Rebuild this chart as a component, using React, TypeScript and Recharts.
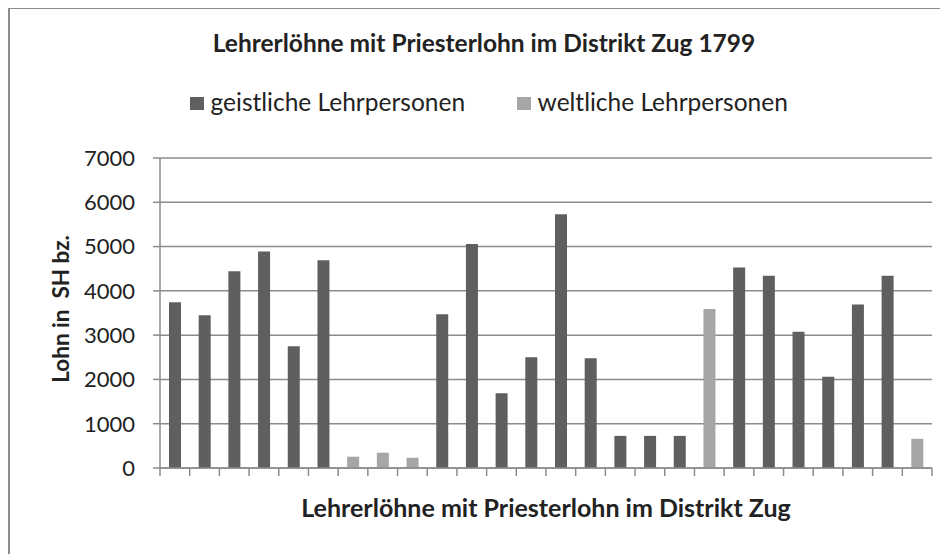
import React from "react";
import { BarChart, Bar, XAxis, YAxis, CartesianGrid, Legend, Label } from "recharts";

const categories = ["1","2","3","4","5","6","7","8","9","10","11","12","13","14","15","16","17","18","19","20","21","22","23","24","25","26"];
const geistliche: (number | null)[] = [3740, 3450, 4440, 4890, 2750, 4690, null, null, null, 3470, 5060, 1690, 2500, 5730, 2480, 725, 725, 725, null, 4530, 4340, 3075, 2060, 3690, 4340, null];
const weltliche: (number | null)[] = [null, null, null, null, null, null, 255, 345, 232, null, null, null, null, null, null, null, null, null, 3590, null, null, null, null, null, null, 660];
const yTicks = [0, 1000, 2000, 3000, 4000, 5000, 6000, 7000];

const title = "Lehrerlöhne mit Priesterlohn im Distrikt Zug 1799";
const xTitle = "Lehrerlöhne mit Priesterlohn im Distrikt Zug";
const yTitle = "Lohn in  SH bz.";
const seriesNames = ["geistliche Lehrpersonen", "weltliche Lehrpersonen"];

const data = categories.map((c, i) => ({ name: c, g: geistliche[i], w: weltliche[i] }));

const DARK = "#5f5f5f";
const LIGHT = "#a6a6a6";
const GRID = "#8c8c8c";
const FONT = "Lato, 'Open Sans', sans-serif";
const W = 940;
const H = 546;
const PLOT_W = 772;

const XTick = (props: any) => {
  const { x, y, index } = props;
  const half = PLOT_W / categories.length / 2;
  return (
    <g>
      <line x1={x - half} x2={x - half} y1={y} y2={y + 8} stroke={GRID} strokeWidth={1.5} />
      {index === categories.length - 1 ? (
        <line x1={x + half} x2={x + half} y1={y} y2={y + 8} stroke={GRID} strokeWidth={1.5} />
      ) : null}
    </g>
  );
};

const LegendContent = () => (
  <div style={{ display: "flex", justifyContent: "center", alignItems: "center", fontFamily: FONT, fontSize: 24.5, lineHeight: "29px", color: "#222" }}>
    {seriesNames.map((n, i) => (
      <div key={n} style={{ display: "flex", alignItems: "center", marginRight: i === 0 ? 52 : 0 }}>
        <span style={{ display: "inline-block", width: 13.5, height: 13.5, background: i === 0 ? DARK : LIGHT, marginRight: 7, position: "relative", top: 2 }} />
        <span>{n}</span>
      </div>
    ))}
  </div>
);

export default function App() {
  return (
    <div style={{ position: "relative", width: W, height: H }}>
      <div style={{ position: "absolute", left: 0, top: -1, width: W, height: H + 1, borderLeft: "2px solid #8c8c8c", borderTop: "2px solid #8c8c8c", boxSizing: "border-box", pointerEvents: "none" }} />
      <div style={{ position: "absolute", left: 0, top: 23, width: 952, textAlign: "center", fontFamily: FONT, fontWeight: 700, fontSize: 24.5, lineHeight: "24.5px", color: "#222" }}>
        {title}
      </div>
      <BarChart width={W} height={H} data={data} margin={{ top: 150, right: 16, bottom: 46, left: 0 }} barSize={12}>
        <CartesianGrid horizontal vertical={false} stroke={GRID} strokeWidth={1.5} />
        <XAxis dataKey="name" interval={0} tickSize={0} tickMargin={0} tickLine={false} height={40} stroke={GRID} strokeWidth={1.5} tick={<XTick />}>
          <Label
            content={(p: any) => {
              const vb = p.viewBox;
              return (
                <text x={vb.x + vb.width / 2} y={vb.y + 49} textAnchor="middle" fontFamily={FONT} fontWeight={700} fontSize={25} fill="#222">
                  {xTitle}
                </text>
              );
            }}
          />
        </XAxis>
        <YAxis width={152} domain={[0, 7000]} ticks={yTicks} interval={0} tickSize={7} tickMargin={18} stroke={GRID} strokeWidth={1.5} tick={{ fontFamily: FONT, fontSize: 22, fill: "#222" }}>
          <Label
            content={(p: any) => {
              const vb = p.viewBox;
              const cx = vb.x + 52;
              const cy = vb.y + vb.height / 2 - 4;
              return (
                <text x={cx} y={cy} transform={`rotate(-90 ${cx} ${cy})`} textAnchor="middle" dominantBaseline="central" fontFamily={FONT} fontWeight={700} fontSize={22.5} fill="#222" style={{ whiteSpace: "pre" }}>
                  {yTitle}
                </text>
              );
            }}
          />
        </YAxis>
        <Legend layout="horizontal" verticalAlign="middle" align="center" wrapperStyle={{ top: 79, left: 0, width: 962 }} content={<LegendContent />} />
        <Bar dataKey="g" name={seriesNames[0]} stackId="a" fill={DARK} isAnimationActive={false} />
        <Bar dataKey="w" name={seriesNames[1]} stackId="a" fill={LIGHT} isAnimationActive={false} />
      </BarChart>
    </div>
  );
}
